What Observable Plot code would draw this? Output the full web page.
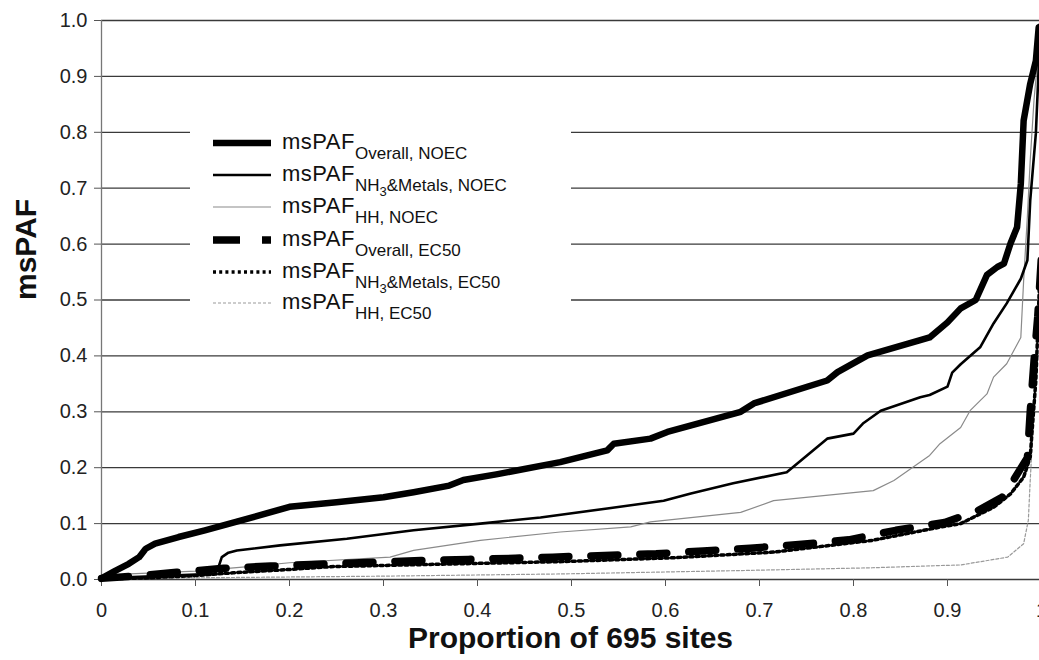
<!DOCTYPE html>
<html>
<head>
<meta charset="utf-8">
<script src="https://cdn.jsdelivr.net/npm/d3@7"></script>
<script src="https://cdn.jsdelivr.net/npm/@observablehq/plot@0.6"></script>
<style>
  html, body { margin: 0; padding: 0; background: #fff; overflow: hidden; }
  #wrap { position: relative; width: 1039px; height: 660px; font-family: "Liberation Sans", Arial, sans-serif; }
  #legend { position: absolute; left: 190px; top: 108px; width: 381px; height: 217px; background: #fff; }
</style>
</head>
<body>
<div id="wrap"></div>
<script>
// ---- tick labels ----
const xTicks = [0, 0.1, 0.2, 0.3, 0.4, 0.5, 0.6, 0.7, 0.8, 0.9, 1];
const yTicks = [0, 0.1, 0.2, 0.3, 0.4, 0.5, 0.6, 0.7, 0.8, 0.9, 1.0];
const xTitle = "Proportion of 695 sites";
const yTitle = "msPAF";

// ---- series (proportion of sites, msPAF) ----
const overallNOEC = [[0,0.002],[0.015,0.016],[0.029,0.028],[0.04,0.04],[0.047,0.055],[0.057,0.064],[0.082,0.076],[0.11,0.088],[0.143,0.103],[0.2,0.13],[0.25,0.138],[0.3,0.147],[0.332,0.156],[0.37,0.168],[0.385,0.178],[0.42,0.188],[0.488,0.21],[0.538,0.231],[0.545,0.243],[0.584,0.252],[0.602,0.264],[0.68,0.3],[0.694,0.315],[0.772,0.356],[0.783,0.371],[0.815,0.401],[0.871,0.428],[0.881,0.433],[0.9,0.46],[0.914,0.485],[0.93,0.5],[0.942,0.545],[0.953,0.559],[0.96,0.565],[0.967,0.601],[0.974,0.63],[0.978,0.708],[0.981,0.821],[0.988,0.887],[0.994,0.928],[0.997,0.988],[1.0,0.99]];
const nh3MetalsNOEC = [[0,0.002],[0.06,0.006],[0.12,0.01],[0.124,0.02],[0.128,0.04],[0.135,0.048],[0.144,0.052],[0.19,0.061],[0.261,0.073],[0.332,0.088],[0.403,0.1],[0.467,0.111],[0.538,0.127],[0.598,0.141],[0.627,0.154],[0.672,0.172],[0.729,0.192],[0.772,0.252],[0.8,0.261],[0.81,0.279],[0.829,0.302],[0.871,0.326],[0.881,0.33],[0.9,0.345],[0.905,0.37],[0.914,0.385],[0.935,0.416],[0.949,0.458],[0.963,0.494],[0.978,0.538],[0.985,0.571],[0.988,0.678],[0.994,0.798],[0.997,0.916],[1.0,0.99]];
const hhNOEC = [[0,0.002],[0.03,0.01],[0.1,0.015],[0.15,0.022],[0.2,0.03],[0.307,0.04],[0.332,0.052],[0.403,0.07],[0.488,0.085],[0.563,0.094],[0.584,0.103],[0.68,0.12],[0.715,0.141],[0.821,0.159],[0.843,0.177],[0.881,0.222],[0.892,0.243],[0.914,0.272],[0.924,0.302],[0.942,0.332],[0.949,0.362],[0.963,0.386],[0.978,0.433],[0.981,0.535],[0.985,0.65],[0.988,0.75],[0.992,0.857],[0.997,0.95],[1.0,0.99]];
const overallEC50 = [[0,0.002],[0.05,0.008],[0.08,0.013],[0.13,0.02],[0.18,0.024],[0.24,0.028],[0.29,0.031],[0.34,0.034],[0.39,0.036],[0.44,0.038],[0.48,0.04],[0.535,0.043],[0.59,0.046],[0.64,0.051],[0.69,0.056],[0.745,0.063],[0.795,0.071],[0.845,0.088],[0.897,0.102],[0.932,0.123],[0.958,0.147],[0.97,0.177],[0.985,0.218],[0.988,0.3],[0.992,0.39],[0.996,0.47],[1.0,0.58]];
const nh3MetalsEC50 = [[0,0.001],[0.05,0.003],[0.1,0.007],[0.14,0.012],[0.2,0.018],[0.244,0.023],[0.35,0.027],[0.49,0.032],[0.61,0.039],[0.715,0.049],[0.82,0.07],[0.893,0.094],[0.914,0.1],[0.949,0.129],[0.967,0.153],[0.981,0.183],[0.988,0.219],[0.99,0.266],[0.994,0.356],[0.996,0.445],[0.998,0.535],[1.0,0.56]];
const hhEC50 = [[0,0.001],[0.1,0.003],[0.3,0.006],[0.49,0.01],[0.68,0.016],[0.82,0.021],[0.893,0.025],[0.914,0.026],[0.964,0.04],[0.981,0.064],[0.986,0.106],[0.988,0.177],[0.992,0.3],[0.996,0.42],[1.0,0.5]];

const styles = {
  overallNOEC:   {stroke: "#000", strokeWidth: 6.5},
  nh3MetalsNOEC: {stroke: "#000", strokeWidth: 2.6},
  hhNOEC:        {stroke: "#8a8a8a", strokeWidth: 1.2},
  overallEC50:   {stroke: "#000", strokeWidth: 7.5, strokeDasharray: "27,22"},
  nh3MetalsEC50: {stroke: "#000", strokeWidth: 3.5, strokeDasharray: "3,3.2"},
  hhEC50:        {stroke: "#9a9a9a", strokeWidth: 1.2, strokeDasharray: "3,2"}
};

const font = "'Liberation Sans', Arial, sans-serif";
const line = (data, s) => Plot.line(data, {x: d => d[0], y: d => d[1], ...s, strokeLinejoin: "round"});

const chart = Plot.plot({
  width: 1039, height: 660,
  marginLeft: 101, marginRight: 0, marginTop: 20, marginBottom: 81,
  x: {domain: [0, 1], range: [101, 1041]},
  y: {domain: [0, 1], range: [579, 20]},
  style: {fontFamily: font, background: "#fff", color: "#222"},
  marks: [
    Plot.ruleY(yTicks, {stroke: "#3a3a3a", strokeWidth: 1.3}),
    Plot.ruleX([0], {stroke: "#777", strokeWidth: 1.3}),
    Plot.axisY({ticks: yTicks, tickFormat: d3.format(".1f"), tickSize: 7, tickPadding: 7, fontSize: 20, label: null, stroke: "#555"}),
    Plot.axisX({ticks: xTicks, tickFormat: d => String(d), tickSize: 7, tickPadding: 16, fontSize: 20, label: null, stroke: "#555"}),
    line(hhEC50, styles.hhEC50),
    line(hhNOEC, styles.hhNOEC),
    line(nh3MetalsEC50, styles.nh3MetalsEC50),
    line(overallEC50, styles.overallEC50),
    line(nh3MetalsNOEC, styles.nh3MetalsNOEC),
    line(overallNOEC, styles.overallNOEC),
    Plot.text([yTitle], {frameAnchor: "left", dx: -75, rotate: -90, fontSize: 30, fontWeight: "bold", fill: "#111"}),
    Plot.text([xTitle], {frameAnchor: "bottom", dy: 68, fontSize: 30, fontWeight: "bold", fill: "#111"})
  ]
});
document.getElementById("wrap").appendChild(chart);

// ---- legend (overlay with white box) ----
const legendItems = [
  {key: "overallNOEC",   sub: [["Overall, NOEC", 0]]},
  {key: "nh3MetalsNOEC", sub: [["NH", 0], ["3", 1], ["&Metals, NOEC", 0]]},
  {key: "hhNOEC",        sub: [["HH, NOEC", 0]]},
  {key: "overallEC50",   sub: [["Overall, EC50", 0]]},
  {key: "nh3MetalsEC50", sub: [["NH", 0], ["3", 1], ["&Metals, EC50", 0]]},
  {key: "hhEC50",        sub: [["HH, EC50", 0]]}
];
const legend = document.createElement("div");
legend.id = "legend";
const ns = "http://www.w3.org/2000/svg";
const lsvg = document.createElementNS(ns, "svg");
lsvg.setAttribute("width", 381); lsvg.setAttribute("height", 217);
lsvg.style.fontFamily = font;
const rowY = [35, 67, 99, 132, 164, 195];
legendItems.forEach((it, i) => {
  const s = styles[it.key];
  const ln = document.createElementNS(ns, "line");
  ln.setAttribute("x1", 23); ln.setAttribute("x2", 81);
  ln.setAttribute("y1", rowY[i]); ln.setAttribute("y2", rowY[i]);
  ln.setAttribute("stroke", s.stroke); ln.setAttribute("stroke-width", s.strokeWidth);
  if (s.strokeDasharray) ln.setAttribute("stroke-dasharray", s.strokeDasharray);
  lsvg.appendChild(ln);
  const t = document.createElementNS(ns, "text");
  t.setAttribute("x", 92); t.setAttribute("y", rowY[i] + 6);
  t.setAttribute("font-size", 22); t.setAttribute("fill", "#111");
  t.setAttribute("letter-spacing", "0.5");
  t.appendChild(document.createTextNode("msPAF"));
  let cur = 0;
  it.sub.forEach(([txt, lvl]) => {
    const ts = document.createElementNS(ns, "tspan");
    const target = lvl === 0 ? 10 : 15;
    ts.setAttribute("dy", target - cur); cur = target;
    ts.setAttribute("font-size", lvl === 0 ? 17 : 13);
    ts.setAttribute("letter-spacing", "0");
    ts.textContent = txt;
    t.appendChild(ts);
  });
  lsvg.appendChild(t);
});
legend.appendChild(lsvg);
document.getElementById("wrap").appendChild(legend);
</script>
</body>
</html>
